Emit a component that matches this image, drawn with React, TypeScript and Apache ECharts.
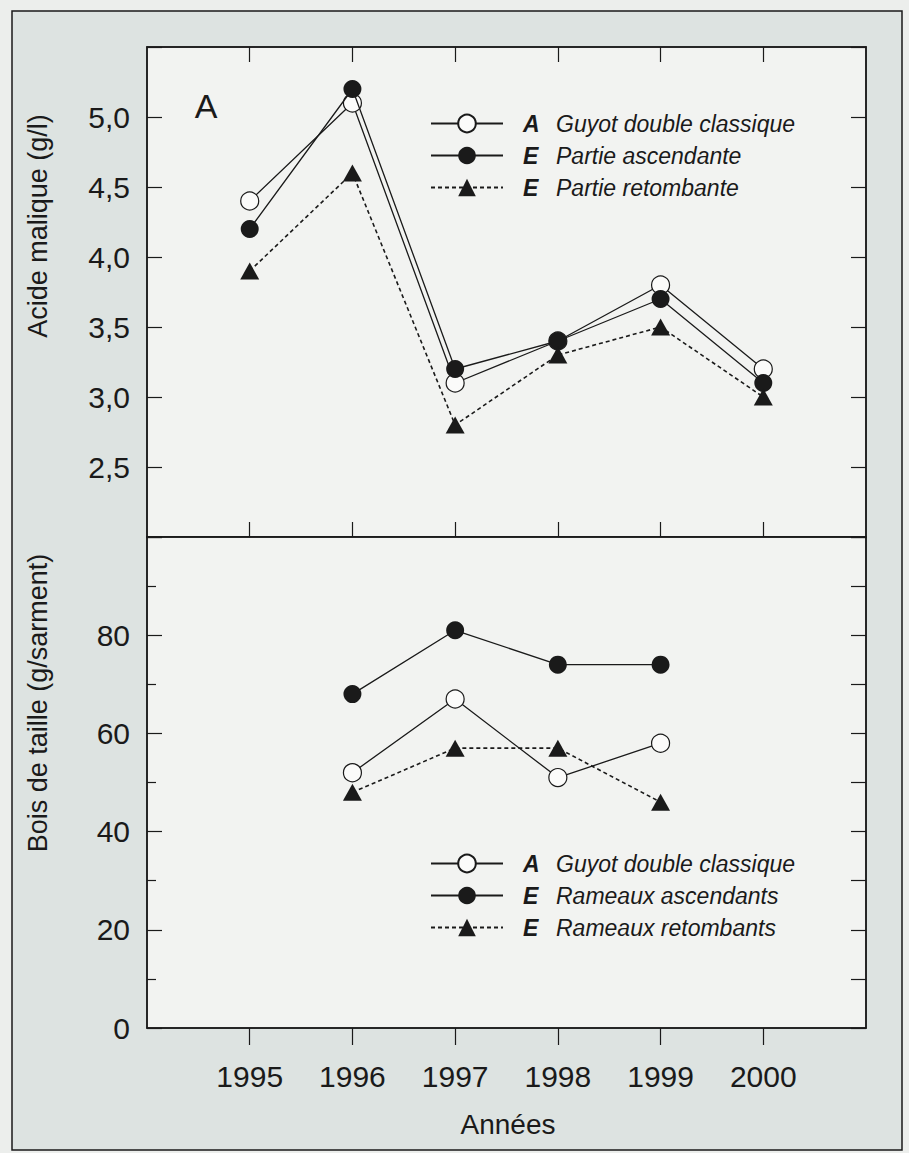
import React, { useEffect, useRef } from 'react';
import * as echarts from 'echarts';

const years = [1995, 1996, 1997, 1998, 1999, 2000];
const xTickLabels = ['1995', '1996', '1997', '1998', '1999', '2000'];

// Panel A : acide malique (g/l)
const malicGuyot = [4.4, 5.1, 3.1, 3.4, 3.8, 3.2];
const malicAsc = [4.2, 5.2, 3.2, 3.4, 3.7, 3.1];
const malicRet = [3.9, 4.6, 2.8, 3.3, 3.5, 3.0];

// Bois de taille (g/sarment)
const boisGuyot = [null, 52, 67, 51, 58, null];
const boisAsc = [null, 68, 81, 74, 74, null];
const boisRet = [null, 48, 57, 57, 46, null];

const topLegendPrefix = ['A', 'E', 'E'];
const topLegendText = ['Guyot double classique', 'Partie ascendante', 'Partie retombante'];
const bottomLegendPrefix = ['A', 'E', 'E'];
const bottomLegendText = ['Guyot double classique', 'Rameaux ascendants', 'Rameaux retombants'];

const FONT = 'Liberation Sans, Arial, Helvetica, sans-serif';
const INK = '#1a1a1a';

export default function App() {
  const ref = useRef<HTMLDivElement>(null);

  useEffect(() => {
    const chart = echarts.init(ref.current as HTMLDivElement, null, { renderer: 'svg' });

    const toData = (vals: (number | null)[]) =>
      years
        .map((y, i) => (vals[i] == null ? null : [y, vals[i]]))
        .filter((d) => d !== null);

    const mk = (id: string, vals: (number | null)[], grid: number, kind: 'open' | 'filled' | 'tri') => ({
      type: 'line',
      name: id,
      xAxisIndex: grid === 0 ? 0 : 2,
      yAxisIndex: grid === 0 ? 0 : 2,
      data: toData(vals),
      symbol: kind === 'tri' ? 'triangle' : 'circle',
      symbolSize: kind === 'tri' ? [19, 17] : 18,
      showAllSymbol: true,
      lineStyle: {
        color: INK,
        width: kind === 'tri' ? 1.6 : 1.3,
        type: kind === 'tri' ? [4, 3] : 'solid',
      },
      itemStyle: {
        color: kind === 'open' ? '#fbfbfa' : INK,
        borderColor: INK,
        borderWidth: kind === 'open' ? 1.2 : 0,
      },
      emphasis: { disabled: true },
      z: kind === 'open' ? 2 : kind === 'filled' ? 3 : 4,
    });

    const ids = ['tA', 'tE1', 'tE2', 'bA', 'bE1', 'bE2'];
    const legendMap: Record<string, string> = {};
    ids.forEach((id, i) => {
      const pre = i < 3 ? topLegendPrefix[i] : bottomLegendPrefix[i - 3];
      const txt = i < 3 ? topLegendText[i] : bottomLegendText[i - 3];
      legendMap[id] = `{b|${pre}}{t|${txt}}`;
    });

    const legendBase = {
      orient: 'vertical',
      left: 425,
      itemWidth: 72,
      itemHeight: 22,
      itemGap: 9,
      selectedMode: false,
      formatter: (name: string) => legendMap[name],
      textStyle: {
        rich: {
          b: {
            fontFamily: FONT,
            fontSize: 23,
            fontWeight: 'bold',
            fontStyle: 'italic',
            color: INK,
            width: 33,
            padding: [0, 0, 0, 15],
            lineHeight: 24,
          },
          t: {
            fontFamily: FONT,
            fontSize: 23,
            fontStyle: 'italic',
            color: INK,
            lineHeight: 24,
          },
        },
      },
    };

    const axisLineStyle = { color: INK, width: 1.5 };
    const tickStyle = { color: INK, width: 1.2 };

    const xBase = (gridIndex: number, position: string) => ({
      type: 'value',
      gridIndex,
      position,
      min: 1994,
      max: 2001,
      interval: 1,
      splitLine: { show: false },
      axisLine: { show: true, lineStyle: axisLineStyle },
    });

    const option = {
      animation: false,
      backgroundColor: '#eceeec',
      textStyle: { fontFamily: FONT },
      grid: [
        {
          left: 147,
          top: 47,
          width: 719,
          height: 490,
          show: true,
          backgroundColor: '#f2f3f1',
          borderColor: INK,
          borderWidth: 1.5,
        },
        {
          left: 147,
          top: 537,
          width: 719,
          height: 491,
          show: true,
          backgroundColor: '#f2f3f1',
          borderColor: INK,
          borderWidth: 1.5,
        },
      ],
      xAxis: [
        {
          ...xBase(0, 'bottom'),
          axisTick: { show: true, inside: true, length: 15, lineStyle: tickStyle, customValues: years },
          axisLabel: { show: false },
        },
        {
          ...xBase(0, 'top'),
          axisTick: { show: true, inside: true, length: 15, lineStyle: tickStyle, customValues: years },
          axisLabel: { show: false },
        },
        {
          ...xBase(1, 'bottom'),
          axisTick: { show: true, inside: false, length: 17, lineStyle: tickStyle, customValues: years },
          axisLabel: {
            show: true,
            margin: 33,
            fontSize: 30,
            fontFamily: FONT,
            color: INK,
            customValues: years,
            formatter: (v: number) => {
              const i = years.indexOf(v);
              return i >= 0 ? xTickLabels[i] : '';
            },
          },
        },
      ],
      yAxis: [
        {
          type: 'value',
          gridIndex: 0,
          position: 'left',
          min: 2,
          max: 5.5,
          interval: 0.5,
          splitLine: { show: false },
          axisLine: { show: true, lineStyle: axisLineStyle },
          axisTick: { show: true, inside: true, length: 15, lineStyle: tickStyle },
          axisLabel: {
            show: true,
            margin: 17,
            fontSize: 30,
            fontFamily: FONT,
            color: INK,
            formatter: (v: number) => (v <= 2 || v >= 5.5 ? '' : v.toFixed(1).replace('.', ',')),
          },
        },
        {
          type: 'value',
          gridIndex: 0,
          position: 'right',
          min: 2,
          max: 5.5,
          interval: 0.5,
          splitLine: { show: false },
          axisLine: { show: true, lineStyle: axisLineStyle },
          axisTick: { show: true, inside: true, length: 15, lineStyle: tickStyle },
          axisLabel: { show: false },
        },
        {
          type: 'value',
          gridIndex: 1,
          position: 'left',
          min: 0,
          max: 100,
          interval: 20,
          splitLine: { show: false },
          axisLine: { show: true, lineStyle: axisLineStyle },
          axisTick: { show: true, inside: true, length: 15, lineStyle: tickStyle },
          minorTick: { show: true, splitNumber: 2, length: 9, lineStyle: tickStyle },
          axisLabel: {
            show: true,
            margin: 17,
            fontSize: 30,
            fontFamily: FONT,
            color: INK,
            formatter: (v: number) => (v >= 100 ? '' : String(v)),
          },
        },
        {
          type: 'value',
          gridIndex: 1,
          position: 'right',
          min: 0,
          max: 100,
          interval: 10,
          splitLine: { show: false },
          axisLine: { show: true, lineStyle: axisLineStyle },
          axisTick: { show: true, inside: true, length: 15, lineStyle: tickStyle },
          axisLabel: { show: false },
        },
      ],
      legend: [
        { ...legendBase, top: 107, data: ['tA', 'tE1', 'tE2'] },
        { ...legendBase, top: 847, data: ['bA', 'bE1', 'bE2'] },
      ],
      series: [
        mk('tA', malicGuyot, 0, 'open'),
        mk('tE1', malicAsc, 0, 'filled'),
        mk('tE2', malicRet, 0, 'tri'),
        mk('bA', boisGuyot, 1, 'open'),
        mk('bE1', boisAsc, 1, 'filled'),
        mk('bE2', boisRet, 1, 'tri'),
      ],
      graphic: [
        {
          type: 'rect',
          z: -10,
          silent: true,
          shape: { x: 12, y: 11, width: 890, height: 1139 },
          style: { fill: '#dde3e1', stroke: INK, lineWidth: 1.5 },
        },
        {
          type: 'text',
          z: 10,
          x: 206,
          y: 106,
          style: {
            text: 'A',
            fontFamily: FONT,
            fontSize: 34,
            fill: INK,
            textAlign: 'center',
            textVerticalAlign: 'middle',
          },
        },
        {
          type: 'text',
          z: 10,
          x: 38,
          y: 226,
          rotation: Math.PI / 2,
          style: {
            text: 'Acide malique (g/l)',
            fontFamily: FONT,
            fontSize: 27,
            fill: INK,
            textAlign: 'center',
            textVerticalAlign: 'middle',
          },
        },
        {
          type: 'text',
          z: 10,
          x: 38,
          y: 703,
          rotation: Math.PI / 2,
          style: {
            text: 'Bois de taille (g/sarment)',
            fontFamily: FONT,
            fontSize: 27,
            fill: INK,
            textAlign: 'center',
            textVerticalAlign: 'middle',
          },
        },
        {
          type: 'text',
          z: 10,
          x: 508,
          y: 1124,
          style: {
            text: 'Années',
            fontFamily: FONT,
            fontSize: 28,
            fill: INK,
            textAlign: 'center',
            textVerticalAlign: 'middle',
          },
        },
      ],
    };

    chart.setOption(option as any);
    return () => chart.dispose();
  }, []);

  return (
    <div
      ref={ref}
      style={{ position: 'absolute', left: 0, top: 0, width: 909, height: 1153 }}
    />
  );
}
